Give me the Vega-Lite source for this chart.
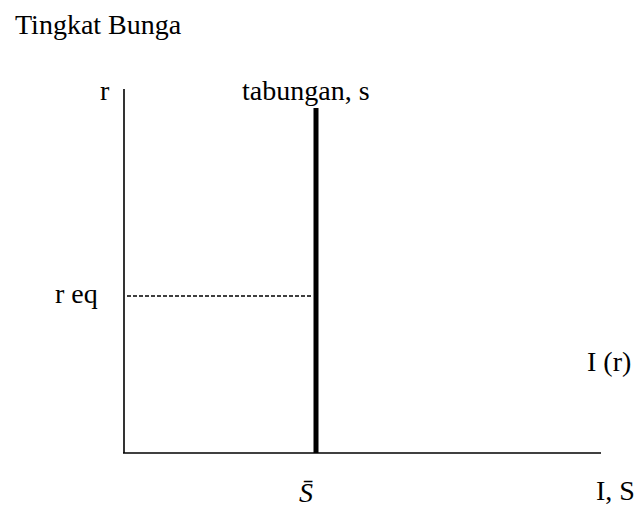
{
  "$schema": "https://vega.github.io/schema/vega-lite/v6.json",
  "width": 644,
  "height": 509,
  "autosize": {"type": "fit", "contains": "padding"},
  "padding": 0,
  "background": "white",
  "config": {"view": {"stroke": null}},
  "datasets": {
    "axes": [
      {"name": "r axis", "x": 0, "x2": 0, "y": 0, "y2": 36.4},
      {"name": "I, S axis", "x": -0.1, "x2": 47.7, "y": 0, "y2": 0}
    ],
    "savings": [
      {"name": "tabungan", "x": 19.2, "x2": 19.2, "y": 0, "y2": 34.5}
    ],
    "equilibrium": [
      {"name": "r eq", "x": 0.3, "x2": 18.9, "y": 15.7, "y2": 15.7}
    ],
    "labels": [
      {"label": "Tingkat Bunga", "x": -10.9, "y": 41.9},
      {"label": "r", "x": -2.4, "y": 35.3},
      {"label": "tabungan, s", "x": 11.8, "y": 35.3},
      {"label": "r eq", "x": -6.9, "y": 15.0},
      {"label": "I (r)", "x": 46.3, "y": 8.2},
      {"label": "I, S", "x": 47.2, "y": -4.7}
    ],
    "italicLabels": [
      {"label": "S̄", "x": 17.5, "y": -4.9}
    ]
  },
  "layer": [
    {
      "data": {"name": "axes"},
      "mark": {"type": "rule", "color": "black", "strokeWidth": 1.6},
      "encoding": {
        "x": {"field": "x", "type": "quantitative", "scale": {"domain": [-12.4, 52.0], "nice": false, "zero": false}, "axis": null},
        "x2": {"field": "x2"},
        "y": {"field": "y", "type": "quantitative", "scale": {"domain": [-5.6, 45.3], "nice": false, "zero": false}, "axis": null},
        "y2": {"field": "y2"}
      }
    },
    {
      "data": {"name": "savings"},
      "mark": {"type": "rule", "color": "black", "strokeWidth": 5},
      "encoding": {
        "x": {"field": "x", "type": "quantitative"},
        "x2": {"field": "x2"},
        "y": {"field": "y", "type": "quantitative"},
        "y2": {"field": "y2"}
      }
    },
    {
      "data": {"name": "equilibrium"},
      "mark": {"type": "rule", "color": "black", "strokeWidth": 1.4, "strokeDash": [4, 2]},
      "encoding": {
        "x": {"field": "x", "type": "quantitative"},
        "x2": {"field": "x2"},
        "y": {"field": "y", "type": "quantitative"},
        "y2": {"field": "y2"}
      }
    },
    {
      "data": {"name": "labels"},
      "mark": {"type": "text", "font": "'Liberation Serif', 'Times New Roman', serif", "fontSize": 28, "color": "black", "align": "left", "baseline": "alphabetic"},
      "encoding": {
        "x": {"field": "x", "type": "quantitative"},
        "y": {"field": "y", "type": "quantitative"},
        "text": {"field": "label"}
      }
    },
    {
      "data": {"name": "italicLabels"},
      "mark": {"type": "text", "font": "'Liberation Serif', 'Times New Roman', serif", "fontStyle": "italic", "fontSize": 28, "color": "black", "align": "left", "baseline": "alphabetic"},
      "encoding": {
        "x": {"field": "x", "type": "quantitative"},
        "y": {"field": "y", "type": "quantitative"},
        "text": {"field": "label"}
      }
    }
  ]
}
